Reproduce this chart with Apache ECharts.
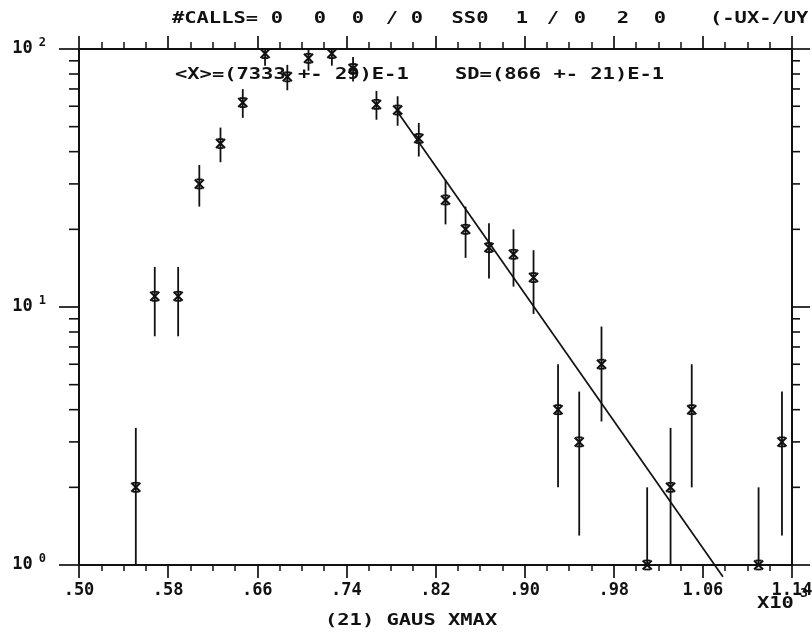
<!DOCTYPE html>
<html><head><meta charset="utf-8">
<script src="https://cdn.jsdelivr.net/npm/echarts@6/dist/echarts.min.js"></script>
<style>html,body{margin:0;padding:0;background:#fff}#c{width:812px;height:632px}</style>
</head><body><div id="c"></div>
<script>
// bin centres (x, in units of 10^3)
const binX = [0.551,0.568,0.589,0.608,0.627,0.647,0.667,0.687,0.706,0.727,0.746,0.767,0.786,0.805,0.829,0.847,0.868,0.890,0.908,0.930,0.949,0.969,1.010,1.031,1.050,1.110,1.131];
// counts per bin
const counts = [2,11,11,30,43,62,96,78,92,96,84,61,58,45,26,20,17,16,13,4,3,6,1,2,4,1,3];
// half-length of each error bar
const errs = [1.4,3.3,3.3,5.5,6.6,7.9,9.8,8.8,9.6,9.8,9.2,7.8,7.6,6.7,5.1,4.5,4.1,4.0,3.6,2.0,1.7,2.4,1.0,1.4,2.0,1.0,1.7];
// fitted straight line (end points)
const fitX = [0.786, 1.078];
const fitY = [57, 0.9];
// axis ticks
const xMin = 0.50, xMax = 1.14, xStep = 0.08;
const yMin = 1, yMax = 100;
const logMinor = [2,3,4,5,6,7,8,9,20,30,40,50,60,70,80,90];

const INK = '#111';
const FONT = 'DejaVu Sans Mono';

const chart = echarts.init(document.getElementById('c'), null, {renderer: 'canvas'});

const pts = binX.map((x, i) => [x, counts[i], errs[i]]);
const fit = fitX.map((x, i) => [x, fitY[i]]);

function xLabel(v) {
  return v.toFixed(2).replace(/^0/, '');
}

const baseX = {
  type: 'value', min: xMin, max: xMax, interval: xStep,
  axisLine: {show: true, onZero: false, lineStyle: {color: INK, width: 2}},
  splitLine: {show: false},
  axisTick: {show: true, inside: false, length: 13, lineStyle: {color: INK, width: 1.7}},
  minorTick: {show: true, splitNumber: 4, length: 6, lineStyle: {color: INK, width: 1.5}},
  minorSplitLine: {show: false}
};
const baseY = {
  type: 'log', logBase: 10, min: yMin, max: yMax,
  axisLine: {show: true, lineStyle: {color: INK, width: 2}},
  splitLine: {show: false},
  minorTick: {show: false},
  minorSplitLine: {show: false}
};

function txt(text, x, y, align, size, scale) {
  return {
    type: 'text', x: x, y: y, scaleX: scale || 1.277, silent: true,
    style: {text: text, fontFamily: FONT, fontWeight: 'bold', fontSize: size || 16, fill: INK,
            textAlign: align || 'left', textVerticalAlign: 'middle'}
  };
}

const option = {
  animation: false,
  backgroundColor: '#fff',
  grid: {left: 79, right: 20, top: 49, bottom: 67, containLabel: false, outerBoundsMode: 'none'},
  xAxis: [
    Object.assign({}, baseX, {
      position: 'bottom',
      axisLabel: {show: true, margin: 17, color: INK, fontFamily: FONT, fontWeight: 'bold', fontSize: 17, formatter: xLabel}
    }),
    Object.assign({}, baseX, {
      position: 'top',
      axisLabel: {show: false},
      minorTick: {show: true, splitNumber: 4, length: 7, lineStyle: {color: INK, width: 1.5}}
    })
  ],
  yAxis: [
    Object.assign({}, baseY, {
      position: 'left',
      axisTick: {show: true, length: 20, lineStyle: {color: INK, width: 1.7}},
      axisLabel: {
        show: true, margin: 33, color: INK,
        formatter: function (v) {
          return '{b|10}{s|' + Math.round(Math.log10(v)) + '}';
        },
        rich: {
          b: {fontFamily: FONT, fontWeight: 'bold', fontSize: 17, color: INK},
          s: {fontFamily: FONT, fontWeight: 'bold', fontSize: 12, color: INK, padding: [0, 0, 12, 6]}
        }
      }
    }),
    Object.assign({}, baseY, {
      position: 'right',
      axisTick: {show: true, length: 18, lineStyle: {color: INK, width: 1.7}},
      axisLabel: {show: false}
    })
  ],
  series: [
    {
      type: 'custom', name: 'minor', xAxisIndex: 0, yAxisIndex: 0, silent: true, clip: false,
      data: logMinor.map(v => [xMin, v]),
      renderItem: function (params, api) {
        const v = api.value(1);
        const l = api.coord([xMin, v]);
        const r = api.coord([xMax, v]);
        return {type: 'group', children: [
          {type: 'line', shape: {x1: l[0] - 10, y1: l[1], x2: l[0], y2: l[1]}, style: {stroke: INK, lineWidth: 1.6}},
          {type: 'line', shape: {x1: r[0], y1: r[1], x2: r[0] + 8, y2: r[1]}, style: {stroke: INK, lineWidth: 1.6}}
        ]};
      }
    },
    {
      type: 'line', name: 'fit', xAxisIndex: 0, yAxisIndex: 0, data: fit,
      symbol: 'none', clip: false, silent: true,
      lineStyle: {color: INK, width: 1.7}
    },
    {
      type: 'custom', name: 'data', xAxisIndex: 0, yAxisIndex: 0, silent: true, clip: false,
      data: pts,
      renderItem: function (params, api) {
        const x = api.value(0), y = api.value(1), e = api.value(2);
        const c = api.coord([x, y]);
        const top = api.coord([x, Math.min(y + e, yMax)]);
        const bot = api.coord([x, Math.max(y - e, yMin)]);
        const s = 4.5, w = 3;
        const st = {stroke: INK, lineWidth: 1.8};
        return {type: 'group', children: [
          {type: 'line', shape: {x1: c[0], y1: top[1], x2: c[0], y2: bot[1]}, style: st},
          {type: 'line', shape: {x1: c[0] - s, y1: c[1] - s, x2: c[0] + s, y2: c[1] + s}, style: {stroke: INK, lineWidth: 2.1}},
          {type: 'line', shape: {x1: c[0] + s, y1: c[1] - s, x2: c[0] - s, y2: c[1] + s}, style: {stroke: INK, lineWidth: 2.1}},
          {type: 'line', shape: {x1: c[0] - w, y1: c[1] - s, x2: c[0] + w, y2: c[1] - s}, style: st},
          {type: 'line', shape: {x1: c[0] - w, y1: c[1] + s, x2: c[0] + w, y2: c[1] + s}, style: st}
        ]};
      }
    }
  ],
  graphic: [
    txt('#CALLS=', 215, 19, 'center'),
    txt('0', 277, 19, 'center'),
    txt('0', 320, 19, 'center'),
    txt('0', 358, 19, 'center'),
    txt('/', 392, 19, 'center'),
    txt('0', 417, 19, 'center'),
    txt('SS0', 470, 19, 'center'),
    txt('1', 522, 19, 'center'),
    txt('/', 553, 19, 'center'),
    txt('0', 580, 19, 'center'),
    txt('2', 623, 19, 'center'),
    txt('0', 660, 19, 'center'),
    txt("(-UX-/UY'", 710, 19, 'left'),
    txt('<X>=(7333 +- 29)E-1', 175, 75, 'left'),
    txt('SD=(866 +- 21)E-1', 455, 75, 'left'),
    txt('(21) GAUS XMAX', 325, 621, 'left'),
    txt('X10', 757, 604, 'left'),
    txt('3', 804, 594, 'center', 12, 1.1)
  ]
};
chart.setOption(option);
</script>
</body></html>
